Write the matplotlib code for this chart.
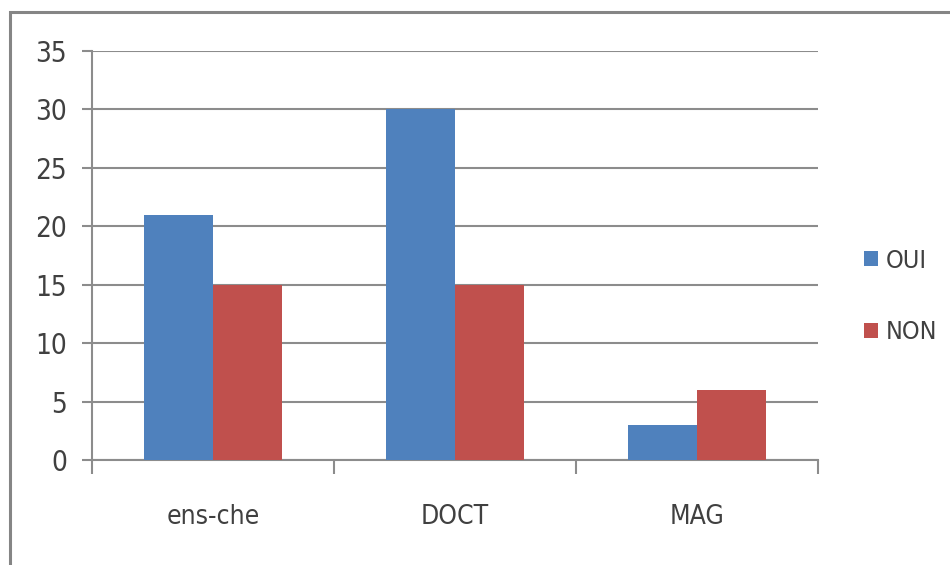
import matplotlib
matplotlib.use('Agg')
import matplotlib.pyplot as plt
from matplotlib.patches import Rectangle
import numpy as np

plt.rcParams['font.family'] = ['DejaVu Sans']
plt.rcParams['font.stretch'] = 'condensed'

# données
categories = ['ens-che', 'DOCT', 'MAG']
oui = [21, 30, 3]
non = [15, 15, 6]
series_labels = ['OUI', 'NON']
y_ticks = [0, 5, 10, 15, 20, 25, 30, 35]

BLUE = '#4F81BD'
RED = '#C0504D'
GRID = '#8C8C8C'
TEXT = '#404040'

W, H = 950, 565
fig = plt.figure(figsize=(W / 100, H / 100), dpi=100)
fig.patch.set_facecolor('white')

# cadre gris autour du graphique (bords droite/bas coupés)
fig.patches.append(Rectangle((10 / W, -0.1), 1.2, (H - 12) / H + 0.1,
                             transform=fig.transFigure, fill=False,
                             edgecolor='#858585', linewidth=2.2))

ax = fig.add_axes([92 / W, (H - 460) / H, (818 - 92) / W, (460 - 51) / H])

x = np.arange(len(categories))
bw = 0.285
ax.bar(x - bw / 2, oui, bw, color=BLUE, label=series_labels[0], zorder=3)
ax.bar(x + bw / 2, non, bw, color=RED, label=series_labels[1], zorder=3)

ax.set_xlim(-0.5, len(categories) - 0.5)
ax.set_ylim(0, 35)
ax.set_yticks(y_ticks)
ax.set_yticklabels([str(v) for v in y_ticks])
ax.yaxis.grid(True, color=GRID, linewidth=1.5, zorder=0)

for s in ['top', 'right']:
    ax.spines[s].set_visible(False)
ax.spines['left'].set_color(GRID)
ax.spines['bottom'].set_color(GRID)
ax.spines['left'].set_linewidth(1.5)
ax.spines['bottom'].set_linewidth(1.5)

ax.tick_params(axis='y', direction='out', length=7, width=1.5, color=GRID,
               pad=11, labelsize=20, labelcolor=TEXT)
ax.set_xticks(x)
ax.set_xticklabels(categories)
ax.tick_params(axis='x', which='major', length=0, pad=32, labelsize=19, labelcolor=TEXT)
ax.set_xticks(np.arange(-0.5, len(categories)), minor=True)
ax.tick_params(axis='x', which='minor', direction='out', length=10, width=1.5, color=GRID)

leg = ax.legend(loc='center left', bbox_to_anchor=(1.05, 0.40), frameon=False,
                fontsize=18, handlelength=0.55, handleheight=0.55,
                handletextpad=0.3, labelspacing=1.9, borderaxespad=0)
for t in leg.get_texts():
    t.set_color(TEXT)

plt.savefig('out.png', dpi=100)
plt.close()
